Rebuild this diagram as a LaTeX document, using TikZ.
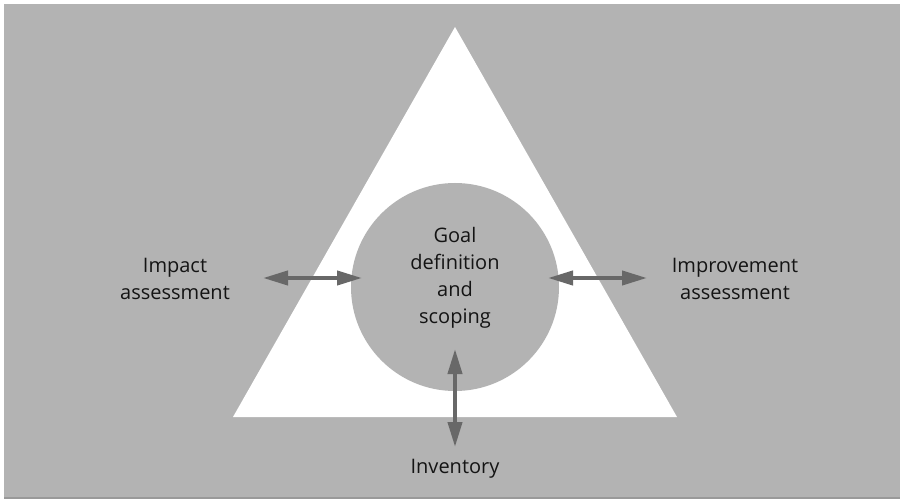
\documentclass[tikz,border=0pt]{standalone}
\usepackage{fontspec}
\setmainfont{Open Sans}
\usetikzlibrary{arrows.meta,positioning}
\definecolor{panelGray}{RGB}{179,179,179}
\definecolor{arrowGray}{RGB}{104,104,104}
\definecolor{textBlack}{RGB}{20,20,20}

\begin{document}
\begin{tikzpicture}[every node/.style={font=\fontsize{10}{13.5}\selectfont,text=textBlack,align=center},x=0.5pt,y=0.5pt,
  twoway/.style={arrowGray,line width=2pt,{Triangle[length=12.5pt,width=7pt]}-{Triangle[length=12.5pt,width=7pt]}}]
  \useasboundingbox (0,0) rectangle (900,499);
  \fill[panelGray](4,0) rectangle (900,495);
  \draw[black!40,line width=0.75pt](4,1)--(900,1);
  \fill[white](455,472)--(233,82)--(677,82)--cycle;
  \fill[panelGray](455,212) circle[radius=104];
  \node (goal) at (455,221){Goal\\definition\\and\\scoping};
  \node (impact) at (175,220){Impact\\assessment};
  \node (improve) at (735,220){Improvement\\assessment};
  \node (inventory) at (455,30){Inventory};
  % arrow end points
  \coordinate (la) at (263,221); \coordinate (lb) at (362,221);
  \coordinate (ra) at (548,221); \coordinate (rb) at (647,221);
  \coordinate (da) at (455,150); \coordinate (db) at (455,52);
  \foreach \a/\b in {la/lb,ra/rb,da/db}{
    \draw[twoway](\a)--(\b);
  }
\end{tikzpicture}
\end{document}
